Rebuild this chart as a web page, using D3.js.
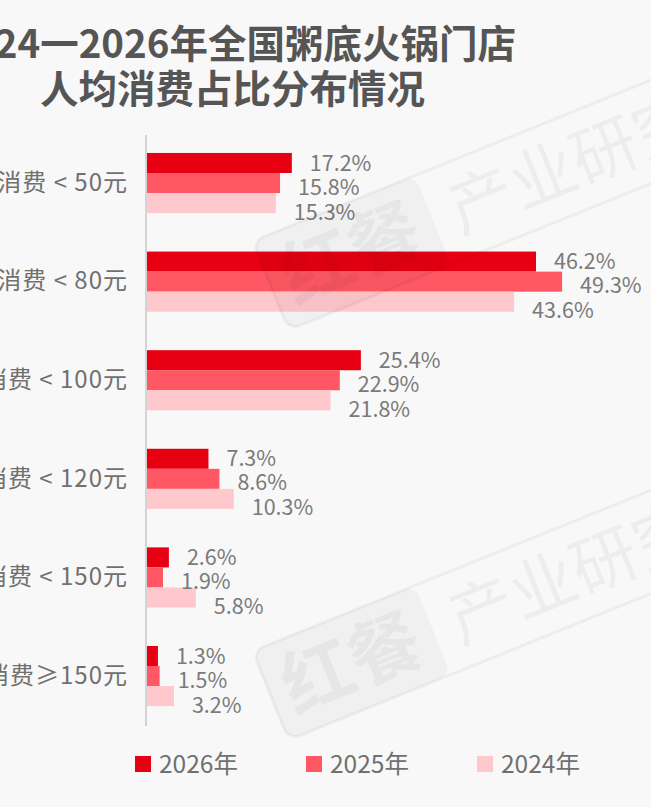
<!DOCTYPE html>
<html>
<head>
<meta charset="utf-8">
<script src="https://cdn.jsdelivr.net/npm/d3@7"></script>
<style>
  body { margin: 0; background: #f8f8f8; }
  svg { display: block; }
  text { font-family: "Noto Sans CJK SC", "Noto Sans", sans-serif; }
</style>
</head>
<body>
<svg id="chart" width="651" height="807"></svg>
<script>
const categories = ['人均消费 < 50元', '人均消费 < 80元', '人均消费 < 100元', '人均消费 < 120元', '人均消费 < 150元', '人均消费≥150元']
const seriesNames = ['2026年', '2025年', '2024年']
const values2026 = [17.2, 46.2, 25.4, 7.3, 2.6, 1.3]
const values2025 = [15.8, 49.3, 22.9, 8.6, 1.9, 1.5]
const values2024 = [15.3, 43.6, 21.8, 10.3, 5.8, 3.2]
const colors = ['#e60012', '#ff5864', '#ffc8cd']

const allValues = [values2026, values2025, values2024]
const rows = categories.map((c, i) => ({
    cat: c,
    vals: seriesNames.map((s, j) => ({series: s, idx: j, value: allValues[j][i]}))
}))

const svg = d3.select('#chart')

// faint watermark
function mark(cx, cy) {
    const g = svg.append('g')
        .attr('transform', `translate(${cx},${cy}) rotate(-22)`)
    g.append('rect')
        .attr('x', -215).attr('y', -48).attr('width', 470).attr('height', 96).attr('rx', 12)
        .attr('fill', 'none').attr('stroke', '#000').attr('stroke-opacity', 0.045).attr('stroke-width', 3)
    g.append('rect')
        .attr('x', -215).attr('y', -48).attr('width', 175).attr('height', 96).attr('rx', 12)
        .attr('fill', '#000').attr('fill-opacity', 0.03)
    g.append('text')
        .attr('x', -128).attr('y', 0).attr('dy', '0.36em').attr('text-anchor', 'middle')
        .style('font-size', '72px').style('font-weight', 'bold')
        .style('fill', '#000').style('fill-opacity', 0.04)
        .text('红餐')
    g.append('text')
        .attr('x', 112).attr('y', 0).attr('dy', '0.36em').attr('text-anchor', 'middle')
        .style('font-size', '66px')
        .style('fill', '#000').style('fill-opacity', 0.045)
        .text('产业研究')
}

// title
svg.append('text')
    .attr('x', 516).attr('y', 58)
    .attr('text-anchor', 'end')
    .style('font-size', '38.5px').style('font-weight', 'bold').style('fill', '#555')
    .text('2024一2026年全国粥底火锅门店')
svg.append('text')
    .attr('x', 40).attr('y', 103)
    .style('font-size', '38.5px').style('font-weight', 'bold').style('fill', '#555')
    .text('人均消费占比分布情况')

const xScale = d3.scaleLinear()
    .domain([0, 50])
    .range([147, 568])

const yScale = d3.scaleBand()
    .domain(categories)
    .range([114.5, 744.6])
    .padding(0.39)

const ySub = d3.scaleBand()
    .domain(seriesNames)
    .range([0, yScale.bandwidth()])

// category labels
const yAxis = svg.append('g')
    .attr('transform', 'translate(128,0)')
    .call(d3.axisLeft(yScale).tickSize(0).tickPadding(0))
yAxis.select('.domain').remove()
yAxis.selectAll('text')
    .style('font-family', '"Noto Sans CJK SC", sans-serif')
    .style('font-size', '24px')
    .style('letter-spacing', '1px')
    .style('fill', '#707070')

const groups = svg.selectAll('.grp')
    .data(rows)
    .enter()
    .append('g')
    .attr('class', 'grp')
    .attr('transform', d => `translate(0,${yScale(d.cat)})`)

groups.selectAll('rect')
    .data(d => d.vals)
    .enter()
    .append('rect')
    .attr('x', xScale(0))
    .attr('y', d => ySub(d.series))
    .attr('width', d => xScale(d.value) - xScale(0))
    .attr('height', ySub.bandwidth())
    .attr('fill', d => colors[d.idx])

// value labels, nudged down a bit so they don't collide
const labelShift = [0, 4, 9]
groups.selectAll('.val')
    .data(d => d.vals)
    .enter()
    .append('text')
    .attr('class', 'val')
    .attr('x', d => xScale(d.value) + 18)
    .attr('y', d => ySub(d.series) + ySub.bandwidth() / 2 + labelShift[d.idx])
    .attr('dy', '0.35em')
    .style('font-size', '21.5px')
    .style('fill', '#7a7a7a')
    .text(d => d.value.toFixed(1) + '%')

// axis line
svg.append('line')
    .attr('x1', 146).attr('x2', 146)
    .attr('y1', 135).attr('y2', 726)
    .attr('stroke', '#d4d4d4').attr('stroke-width', 2)

// legend
const legend = svg.selectAll('.leg')
    .data(seriesNames)
    .enter()
    .append('g')
    .attr('class', 'leg')
    .attr('transform', (d, i) => `translate(${135 + i * 171},756)`)
legend.append('rect')
    .attr('width', 16).attr('height', 16)
    .attr('fill', (d, i) => colors[i])
legend.append('text')
    .attr('x', 24).attr('y', 8).attr('dy', '0.36em')
    .style('font-size', '24.5px').style('fill', '#707070')
    .text(d => d)

mark(470, 205)
mark(470, 615)
</script>
</body>
</html>
